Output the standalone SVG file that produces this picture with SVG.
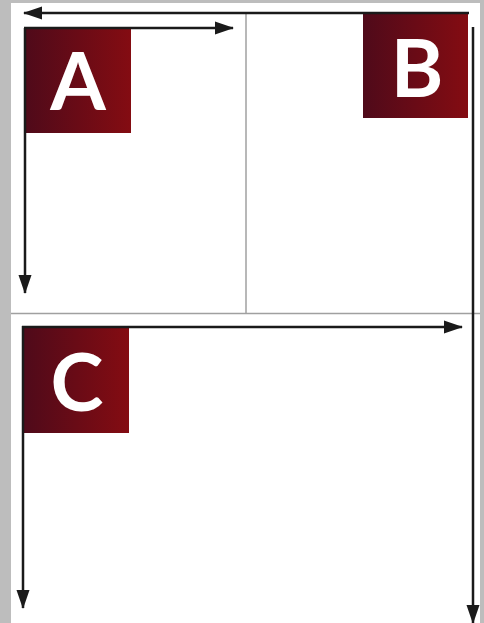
<svg xmlns="http://www.w3.org/2000/svg" width="484" height="623" viewBox="0 0 484 623">
<style>
.grid{stroke:#a0a0a0;stroke-width:1.5;fill:none}
.arr{stroke:#1a1a1a;stroke-width:2.5;fill:none;marker-end:url(#ah)}
.box{fill:url(#g)}
.lbl{font-family:Lato,"Open Sans",sans-serif;font-weight:bold;font-size:80px;fill:#fff;text-anchor:middle}
</style>
<defs>
<linearGradient id="g" x1="0" y1="0" x2="1" y2="0">
<stop offset="0" stop-color="#4f0a1a"/>
<stop offset="1" stop-color="#840c12"/>
</linearGradient>
<marker id="ah" markerUnits="userSpaceOnUse" markerWidth="20" markerHeight="14" refX="18" refY="7" orient="auto" viewBox="0 0 20 14">
<polygon points="0,0.5 19,7 0,13.5" fill="#1a1a1a"/>
</marker>
</defs>
<rect x="0" y="0" width="484" height="623" fill="#bdbdbd"/>
<rect x="11" y="3" width="469" height="620" fill="#fff"/>
<g id="grid">
<line class="grid" x1="246" y1="13" x2="246" y2="313"/>
<line class="grid" x1="11" y1="313.5" x2="480" y2="313.5"/>
</g>
<g id="nodeA">
<rect class="box" x="25" y="28" width="106" height="105"/>
<text class="lbl" x="78" y="110">A</text>
</g>
<g id="nodeB">
<rect class="box" x="363" y="14" width="105" height="104"/>
<text class="lbl" x="417" y="97">B</text>
</g>
<g id="nodeC">
<rect class="box" x="24" y="327" width="105" height="106"/>
<text class="lbl" x="77" y="411">C</text>
</g>
<g id="connectors">
<line class="arr" x1="469" y1="13" x2="24" y2="13"/>
<line class="arr" x1="24" y1="28" x2="233" y2="28"/>
<line class="arr" x1="25" y1="28" x2="25" y2="293"/>
<line class="arr" x1="473" y1="27" x2="473" y2="623"/>
<line class="arr" x1="22" y1="327" x2="462" y2="327"/>
<line class="arr" x1="23" y1="326" x2="23" y2="608"/>
</g>
</svg>
